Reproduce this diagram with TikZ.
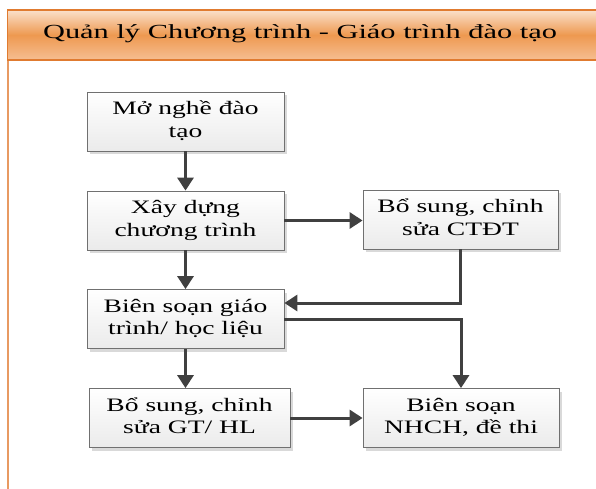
\documentclass[tikz,border=0pt]{standalone}
\usepackage{fontspec}
\setmainfont{Liberation Serif}
\usepackage{graphicx}
\usetikzlibrary{arrows.meta,calc}

\definecolor{bandedge}{HTML}{E07B30}
\definecolor{bandtop}{HTML}{FAE0CB}
\definecolor{bandmid}{HTML}{EE9950}
\definecolor{bandbot}{HTML}{F6BE92}
\definecolor{sideline}{HTML}{E89A62}
\definecolor{boxedge}{HTML}{707070}
\definecolor{flow}{HTML}{404040}

% wide, two-line box label
\newcommand{\widelabel}[1]{\scalebox{1.45}[1]{\begin{tabular}{@{}c@{}}#1\end{tabular}}}

\tikzset{
  stepbox/.style={
    draw=boxedge, line width=0.8pt,
    top color=white, bottom color=black!8,
    minimum height=59pt, inner sep=0pt,
    font=\fontsize{19}{22.5}\selectfont,
    preaction={fill=black!15, draw=none, transform canvas={shift={(3pt,-3pt)}}}
  },
  flowarrow/.style={
    draw=flow, line width=3pt,
    -{Triangle[width=16pt,length=13pt]}
  }
}

\begin{document}
\begin{tikzpicture}[x=1pt,y=-1pt]
  \useasboundingbox (0,0) rectangle (596,488);

  % title band and frame edge
  \draw[sideline, line width=1.2pt] (8,60) -- (8,490);
  \shade[top color=bandtop, bottom color=bandbot, middle color=bandmid,
         draw=bandedge, line width=1.2pt]
    (7.5,10) rectangle (600,60);
  \node[font=\fontsize{20}{24}\selectfont] (title) at (300,34)
    {\scalebox{1.52}[1]{Quản lý Chương trình - Giáo trình đào tạo}};

  % steps
  \node[stepbox, minimum width=197pt] (mo)  at (185.5,121.5) {\widelabel{Mở nghề đào\\tạo}};
  \node[stepbox, minimum width=197pt] (xd)  at (185.5,220.5) {\widelabel{Xây dựng\\chương trình}};
  \node[stepbox, minimum width=195pt] (bsc) at (460.5,219.5) {\widelabel{Bổ sung, chỉnh\\sửa CTĐT}};
  \node[stepbox, minimum width=197pt] (bs)  at (185.5,319)   {\widelabel{Biên soạn giáo\\trình/ học liệu}};
  \node[stepbox, minimum width=201pt] (bsg) at (189.5,418)   {\widelabel{Bổ sung, chỉnh\\sửa GT/ HL}};
  \node[stepbox, minimum width=196pt] (nh)  at (461,418)     {\widelabel{Biên soạn\\NHCH, đề thi}};

  % connectors
  \draw[flowarrow] (mo.south) -- (xd.north);
  \draw[flowarrow] (xd.east) -- (bsc.west |- xd.east);
  \draw[flowarrow] (xd.south) -- (bs.north);
  \draw[flowarrow] (bsc.south) |- ($(bs.east)+(0,-16)$);
  \draw[flowarrow] (bs.east) -| (nh.north);
  \draw[flowarrow] (bs.south) -- (bs.south |- bsg.north);
  \draw[flowarrow] (bsg.east) -- (nh.west);
\end{tikzpicture}
\end{document}
